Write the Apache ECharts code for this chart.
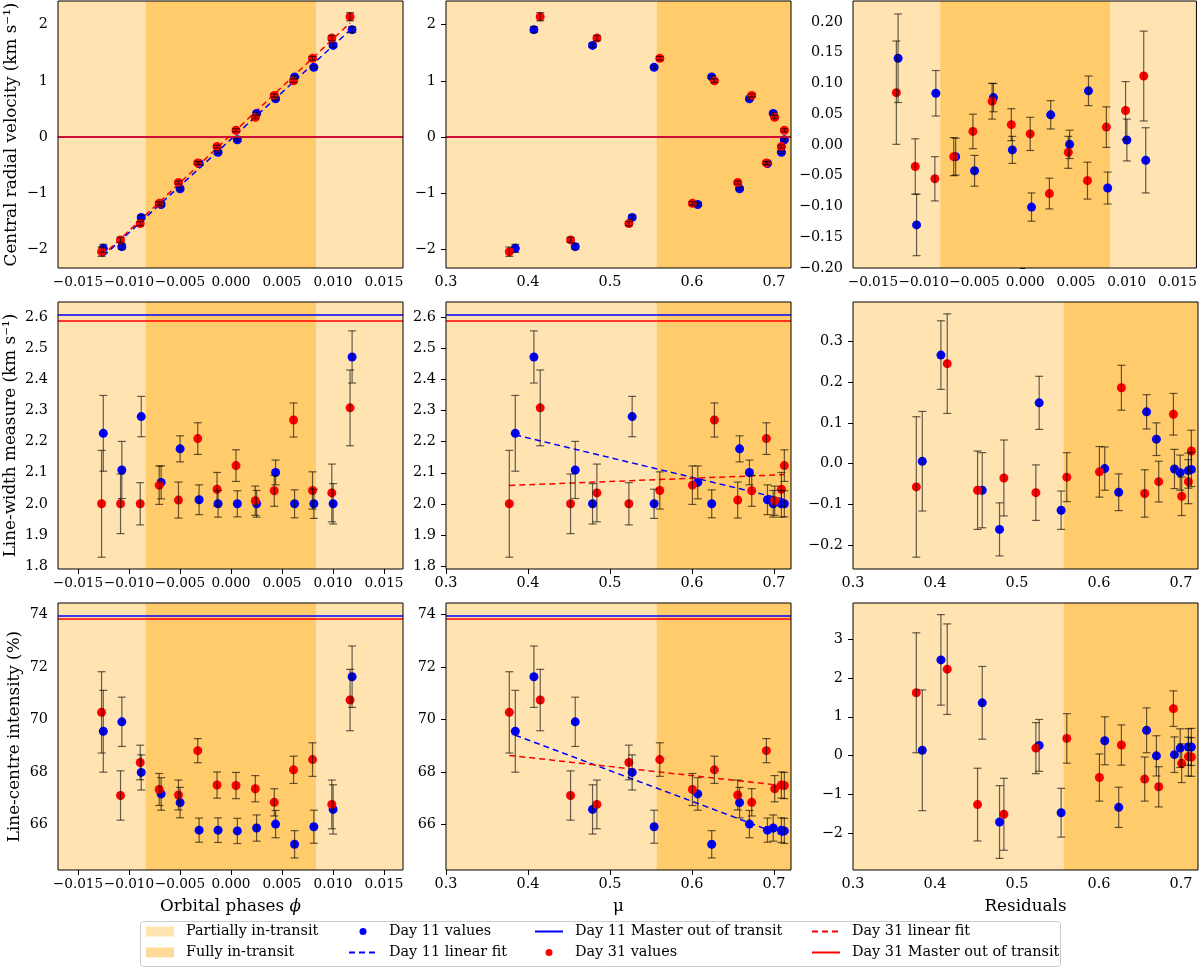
<!DOCTYPE html>
<html>
<head>
<meta charset="utf-8">
<script src="https://cdn.jsdelivr.net/npm/echarts@6/dist/echarts.min.js"></script>
<style>
html, body { margin: 0; background: #fff; }
#chart { width: 1200px; height: 967px; }
</style>
</head>
<body>
<div id="chart"></div>
<script>
// ---- data (14 exposures per night, ordered by orbital phase) ----
const phase11 = [-0.01252, -0.01070, -0.00880, -0.00685, -0.00499, -0.00313, -0.00127, 0.00062, 0.00251, 0.00437, 0.00623, 0.00812, 0.01001, 0.01187]
const phase31 = [-0.01269, -0.01083, -0.00890, -0.00704, -0.00515, -0.00326, -0.00137, 0.00049, 0.00238, 0.00424, 0.00613, 0.00799, 0.00988, 0.01167]
const mu11 = [0.3845, 0.4576, 0.527, 0.607, 0.658, 0.692, 0.709, 0.7126, 0.699, 0.670, 0.624, 0.5538, 0.4787, 0.4072]
const mu31 = [0.3772, 0.4519, 0.523, 0.6005, 0.6557, 0.6907, 0.709, 0.7126, 0.7008, 0.6728, 0.6273, 0.5607, 0.484, 0.4149]

// central radial velocity (km/s)
const rv11 = [-1.98, -1.95, -1.43, -1.20, -0.92, -0.47, -0.27, -0.05, 0.42, 0.68, 1.07, 1.24, 1.63, 1.91]
const rv31 = [-2.04, -1.83, -1.54, -1.18, -0.81, -0.46, -0.17, 0.12, 0.35, 0.74, 1.00, 1.40, 1.76, 2.14]
const rvErr11 = [0.072, 0.050, 0.037, 0.030, 0.025, 0.023, 0.022, 0.023, 0.023, 0.023, 0.024, 0.026, 0.034, 0.053]
const rvErr31 = [0.084, 0.045, 0.036, 0.031, 0.028, 0.029, 0.026, 0.027, 0.025, 0.026, 0.030, 0.033, 0.047, 0.073]
const rvRes11 = [0.141, -0.130, 0.084, -0.019, -0.042, 0.077, -0.008, -0.101, 0.049, 0.001, 0.088, -0.070, 0.008, -0.025]
const rvRes31 = [0.085, -0.035, -0.055, -0.019, 0.022, 0.071, 0.033, 0.018, -0.079, -0.012, -0.058, 0.029, 0.056, 0.112]
const rvFit11 = [[-0.01252, -2.12], [0.01187, 1.935]]
const rvFit31 = [[-0.01269, -2.125], [0.01167, 2.03]]
const rvMaster11 = 0
const rvMaster31 = 0

// line-width measure (km/s)
const width11 = [2.227, 2.109, 2.281, 2.069, 2.177, 2.013, 2.0, 2.0, 2.0, 2.101, 2.0, 2.0, 2.0, 2.473]
const width31 = [2.0, 2.0, 2.0, 2.06, 2.012, 2.21, 2.047, 2.123, 2.01, 2.042, 2.27, 2.043, 2.035, 2.309]
const widthErr11 = [0.122, 0.092, 0.065, 0.053, 0.042, 0.048, 0.043, 0.042, 0.043, 0.040, 0.045, 0.047, 0.065, 0.084]
const widthErr31 = [0.172, 0.096, 0.068, 0.062, 0.058, 0.051, 0.054, 0.051, 0.047, 0.050, 0.055, 0.060, 0.093, 0.122]
const widthRes11 = [0.006, -0.065, 0.149, -0.012, 0.127, -0.013, -0.017, -0.014, -0.022, 0.060, -0.070, -0.114, -0.161, 0.266]
const widthRes31 = [-0.057, -0.065, -0.071, -0.020, -0.073, 0.121, -0.044, 0.031, -0.080, -0.044, 0.186, -0.033, -0.035, 0.245]
const widthFit11 = [[0.3845, 2.222], [0.7126, 2.014]]
const widthFit31 = [[0.3772, 2.059], [0.7126, 2.094]]
const widthMaster11 = 2.611
const widthMaster31 = 2.586

// line-centre intensity (%)
const int11 = [69.55, 69.91, 67.98, 67.16, 66.83, 65.78, 65.78, 65.75, 65.86, 66.01, 65.24, 65.91, 66.57, 71.63]
const int31 = [70.27, 67.10, 68.36, 67.33, 67.12, 68.81, 67.50, 67.48, 67.36, 66.84, 68.08, 68.47, 66.76, 70.74]
const intErr11 = [1.56, 0.94, 0.67, 0.62, 0.58, 0.46, 0.47, 0.48, 0.50, 0.52, 0.52, 0.63, 0.94, 1.17]
const intErr31 = [1.55, 0.94, 0.66, 0.61, 0.57, 0.46, 0.50, 0.50, 0.50, 0.52, 0.52, 0.64, 0.93, 1.17]
const intRes11 = [0.134, 1.36, 0.26, 0.38, 0.65, 0.02, 0.22, 0.22, 0.19, -0.01, -1.34, -1.48, -1.72, 2.47]
const intRes31 = [1.62, -1.27, 0.19, -0.57, -0.61, 1.21, -0.03, -0.04, -0.20, -0.81, 0.27, 0.44, -1.52, 2.23]
const intFit11 = [[0.3845, 69.40], [0.7126, 65.56]]
const intFit31 = [[0.3772, 68.63], [0.7126, 67.47]]
const intMaster11 = 73.97
const intMaster31 = 73.83

// transit spans
const fullyPhase = [-0.00836, 0.00833]
const fullyMu = [0.557, 0.7207]

// tick labels
const phaseTicks = [-0.015, -0.010, -0.005, 0.000, 0.005, 0.010, 0.015]
const muTicks = [0.3, 0.4, 0.5, 0.6, 0.7]
const rvTicks = [-2, -1, 0, 1, 2]
const rvResTicks = [-0.20, -0.15, -0.10, -0.05, 0.00, 0.05, 0.10, 0.15, 0.20]
const widthTicks = [1.8, 1.9, 2.0, 2.1, 2.2, 2.3, 2.4, 2.5, 2.6]
const widthResTicks = [-0.2, -0.1, 0.0, 0.1, 0.2, 0.3]
const intTicks = [66, 68, 70, 72, 74]
const intResTicks = [-2, -1, 0, 1, 2, 3]

const rowNames = ['Central radial velocity (km s\u207B\u00B9)', 'Line-width measure (km s\u207B\u00B9)', 'Line-centre intensity (%)']
const colNames = ['Orbital phases {i|\u03D5}', '\u03BC', 'Residuals']

// ---- styling / layout ----
const FONT = 'DejaVu Serif'
const BLUE = '#0000ff'
const RED = '#ff0000'
const LIGHT = '#FFE4B2'
const DARK = '#FFCB6B'
const colLeft = [58, 446, 853]
const rowTop = [1, 302, 603]
const panelW = 345
const panelH = 267
const yNameGap = [38, 39, 35]

// phase labels sit edge to edge, so they are a touch smaller to stay all visible
const xScales = {
  phase: { min: -0.01696, max: 0.01686, ticks: phaseTicks, dec: 3, fully: fullyPhase, size: 13.6 },
  mu: { min: 0.3, max: 0.7207, ticks: muTicks, dec: 1, fully: fullyMu, size: 14.4 }
}
const yScales = {
  rv: { min: -2.33, max: 2.42, ticks: rvTicks, dec: 0 },
  rvRes: { min: -0.2, max: 0.234, ticks: rvResTicks, dec: 2 },
  width: { min: 1.79, max: 2.65, ticks: widthTicks, dec: 1 },
  widthRes: { min: -0.258, max: 0.396, ticks: widthResTicks, dec: 1 },
  int: { min: 64.26, max: 74.44, ticks: intTicks, dec: 0 },
  intRes: { min: -2.96, max: 3.94, ticks: intResTicks, dec: 0 }
}

const panels = [
  { xk: 'phase', x: [phase11, phase31], yk: 'rv', y: [rv11, rv31], e: [rvErr11, rvErr31], fit: [rvFit11, rvFit31], master: [rvMaster11, rvMaster31] },
  { xk: 'mu', x: [mu11, mu31], yk: 'rv', y: [rv11, rv31], e: [rvErr11, rvErr31], master: [rvMaster11, rvMaster31] },
  { xk: 'phase', x: [phase11, phase31], yk: 'rvRes', y: [rvRes11, rvRes31], e: [rvErr11, rvErr31] },
  { xk: 'phase', x: [phase11, phase31], yk: 'width', y: [width11, width31], e: [widthErr11, widthErr31], master: [widthMaster11, widthMaster31] },
  { xk: 'mu', x: [mu11, mu31], yk: 'width', y: [width11, width31], e: [widthErr11, widthErr31], fit: [widthFit11, widthFit31], master: [widthMaster11, widthMaster31] },
  { xk: 'mu', x: [mu11, mu31], yk: 'widthRes', y: [widthRes11, widthRes31], e: [widthErr11, widthErr31] },
  { xk: 'phase', x: [phase11, phase31], yk: 'int', y: [int11, int31], e: [intErr11, intErr31], master: [intMaster11, intMaster31] },
  { xk: 'mu', x: [mu11, mu31], yk: 'int', y: [int11, int31], e: [intErr11, intErr31], fit: [intFit11, intFit31], master: [intMaster11, intMaster31] },
  { xk: 'mu', x: [mu11, mu31], yk: 'intRes', y: [intRes11, intRes31], e: [intErr11, intErr31] }
]

const fmt = dec => v => (Math.abs(v) < 1e-12 ? 0 : v).toFixed(dec).replace('-', '\u2212')
const tickFont = { color: '#000', fontSize: 14.4, fontFamily: FONT }
const nameFont = { color: '#000', fontSize: 16.8, fontFamily: FONT, rich: { i: { fontSize: 16.8, fontFamily: FONT, fontStyle: 'italic', color: '#000' } } }

function errorBars(gi, xs, ys, es) {
  return {
    type: 'custom',
    name: 'errorbars',
    xAxisIndex: gi,
    yAxisIndex: gi,
    z: 4,
    silent: true,
    data: xs.map((x, k) => [x, ys[k], es[k]]),
    renderItem: (params, api) => {
      const x = api.value(0), y = api.value(1), e = api.value(2)
      const top = api.coord([x, y + e])
      const bot = api.coord([x, y - e])
      const style = { stroke: 'rgba(0,0,0,0.6)', lineWidth: 1.2 }
      return {
        type: 'group',
        children: [
          { type: 'line', shape: { x1: top[0], y1: top[1], x2: bot[0], y2: bot[1] }, style },
          { type: 'line', shape: { x1: top[0] - 4, y1: top[1], x2: top[0] + 4, y2: top[1] }, style },
          { type: 'line', shape: { x1: bot[0] - 4, y1: bot[1], x2: bot[0] + 4, y2: bot[1] }, style }
        ]
      }
    }
  }
}

const grid = [], xAxis = [], yAxis = [], series = []

panels.forEach((p, i) => {
  const row = Math.floor(i / 3), col = i % 3
  const X = xScales[p.xk], Y = yScales[p.yk]
  grid.push({
    left: colLeft[col], top: rowTop[row], width: panelW, height: panelH,
    show: true, borderColor: '#000', borderWidth: 1, backgroundColor: 'transparent', z: 10
  })
  xAxis.push({
    type: 'value', gridIndex: i, min: X.min, max: X.max,
    axisLine: { show: false }, splitLine: { show: false },
    axisTick: { show: true, length: 5, lineStyle: { color: '#000' }, customValues: X.ticks },
    axisLabel: { ...tickFont, fontSize: X.size, margin: 7, customValues: X.ticks, formatter: fmt(X.dec), showMinLabel: true, showMaxLabel: true, hideOverlap: false },
    name: row === 2 ? colNames[col] : '', nameLocation: 'middle', nameGap: 28, nameTextStyle: nameFont
  })
  yAxis.push({
    type: 'value', gridIndex: i, min: Y.min, max: Y.max,
    axisLine: { show: false }, splitLine: { show: false },
    axisTick: { show: true, length: 5, lineStyle: { color: '#000' }, customValues: Y.ticks },
    axisLabel: { ...tickFont, margin: 10, customValues: Y.ticks, formatter: fmt(Y.dec), showMinLabel: true, showMaxLabel: true },
    name: col === 0 ? rowNames[row] : '', nameLocation: 'middle', nameRotate: 90,
    nameGap: yNameGap[row], nameTextStyle: nameFont
  })

  // transit shading
  series.push({
    type: 'line', name: 'Partially in-transit', xAxisIndex: i, yAxisIndex: i, data: [],
    itemStyle: { color: LIGHT }, lineStyle: { color: LIGHT },
    markArea: { silent: true, itemStyle: { color: LIGHT }, data: [[{ xAxis: X.min }, { xAxis: X.max }]] }
  })
  series.push({
    type: 'line', name: 'Fully in-transit', xAxisIndex: i, yAxisIndex: i, data: [],
    itemStyle: { color: '#FFDB99' }, lineStyle: { color: '#FFDB99' },
    markArea: { silent: true, itemStyle: { color: DARK }, data: [[{ xAxis: X.fully[0] }, { xAxis: X.fully[1] }]] }
  })

  // master out-of-transit levels
  if (p.master) {
    ;[['Day 11 Master out of transit', BLUE, p.master[0]], ['Day 31 Master out of transit', RED, p.master[1]]].forEach(([name, c, v]) => {
      series.push({
        type: 'line', name, xAxisIndex: i, yAxisIndex: i, data: [], symbol: 'none',
        itemStyle: { color: c }, lineStyle: { color: c, width: 1.5 },
        markLine: { silent: true, symbol: 'none', label: { show: false }, lineStyle: { color: c, width: 1.5, type: 'solid' }, data: [{ yAxis: v }] }
      })
    })
  }

  // linear fits
  if (p.fit) {
    ;[['Day 11 linear fit', BLUE, p.fit[0]], ['Day 31 linear fit', RED, p.fit[1]]].forEach(([name, c, d]) => {
      series.push({
        type: 'line', name, xAxisIndex: i, yAxisIndex: i, data: d, symbol: 'none', z: 2,
        itemStyle: { color: c }, lineStyle: { color: c, width: 1.5, type: [6, 4] }
      })
    })
  }

  // measured values
  ;[['Day 11 values', BLUE, 0], ['Day 31 values', RED, 1]].forEach(([name, c, k]) => {
    series.push({
      type: 'scatter', name, xAxisIndex: i, yAxisIndex: i, symbolSize: 9, z: 3,
      itemStyle: { color: c, opacity: 1 },
      data: p.x[k].map((x, j) => [x, p.y[k][j]])
    })
  })
  series.push(errorBars(i, p.x[0], p.y[0], p.e[0]))
  series.push(errorBars(i, p.x[1], p.y[1], p.e[1]))
})

const legendText = { color: '#000', fontSize: 14.4, fontFamily: FONT, lineHeight: 15, padding: [0, 0, 0, 7] }
const hideDot = { opacity: 0 }
const legendBase = { orient: 'vertical', top: 924, padding: 0, itemWidth: 28, itemGap: 6, selectedMode: false, textStyle: legendText, z: 20 }
const legend = [
  { ...legendBase, left: 146, itemHeight: 10,
    data: [{ name: 'Partially in-transit', icon: 'rect' }, { name: 'Fully in-transit', icon: 'rect' }] },
  { ...legendBase, left: 348, itemHeight: 7,
    data: [{ name: 'Day 11 values', icon: 'circle' }, { name: 'Day 11 linear fit', itemStyle: hideDot }] },
  { ...legendBase, left: 534, itemHeight: 7,
    data: [{ name: 'Day 11 Master out of transit', itemStyle: hideDot }, { name: 'Day 31 values', icon: 'circle' }] },
  { ...legendBase, left: 811, itemHeight: 7,
    data: [{ name: 'Day 31 linear fit', itemStyle: hideDot }, { name: 'Day 31 Master out of transit', itemStyle: hideDot }] }
]

const chart = echarts.init(document.getElementById('chart'), null, { renderer: 'canvas' })
chart.setOption({
  animation: false,
  backgroundColor: '#fff',
  textStyle: { fontFamily: FONT },
  grid, xAxis, yAxis, series, legend,
  graphic: [{
    type: 'rect', left: 140, top: 921, z: 15, silent: true,
    shape: { width: 920, height: 45, r: 3 },
    style: { fill: 'rgba(255,255,255,0.8)', stroke: '#cccccc', lineWidth: 1 }
  }]
})
</script>
</body>
</html>
